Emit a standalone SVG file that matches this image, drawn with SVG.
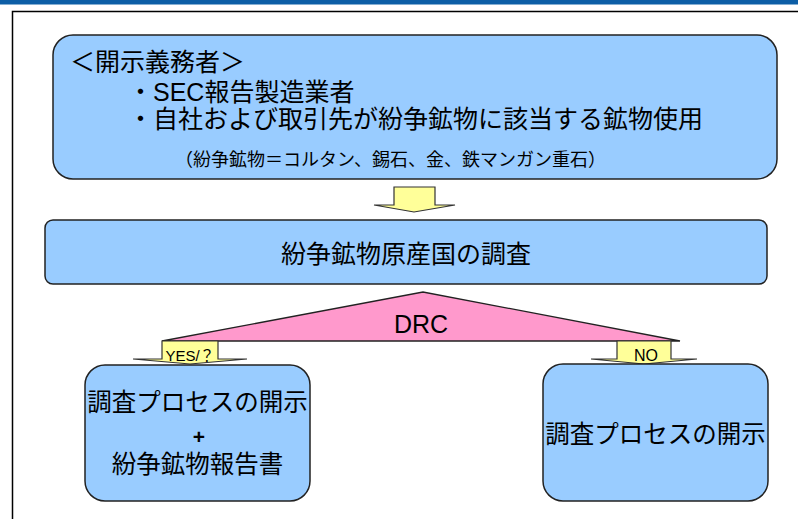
<svg xmlns="http://www.w3.org/2000/svg" width="798" height="519" viewBox="0 0 798 519">
<style>
.box{fill:#99ccff;stroke:#222;stroke-width:1.5}
.arr{fill:#ffff99;stroke:#333;stroke-width:1.2;stroke-linejoin:miter}
.tri{fill:#ff99cc;stroke:#222;stroke-width:1.3}
.t{font-family:"Liberation Sans","Noto Sans CJK JP",sans-serif;fill:#000}
.c{text-anchor:middle}
</style>
<rect x="0" y="0" width="798" height="4.5" fill="#0d5ea6"/>
<rect x="12.5" y="11.5" width="800" height="520" fill="none" stroke="#000" stroke-width="1.5"/>
<g id="connectors">
<path id="arrow-down" class="arr" d="M394,187 H435 V205 H455 L414,212 L374,205 H394 Z"/>
<path id="triangle-drc" class="tri" d="M162,341 L423,292 L680,341 Z"/>
<path id="arrow-yes" class="arr" d="M162,341 H218 V359 H247 L190,364 L133,359 H162 Z"/>
<path id="arrow-no" class="arr" d="M617,341 H671 V359 H697 L644,364 L591,359 H617 Z"/>
<text class="t c" x="421" y="333" font-size="25">DRC</text>
<text class="t c" x="190" y="361" font-size="15">YES/？</text>
<text class="t c" x="646" y="361" font-size="16">NO</text>
</g>
<g id="node-obligors">
<rect class="box" x="53" y="35" width="724" height="144" rx="20"/>
<text class="t" x="70" y="71" font-size="25">＜開示義務者＞</text>
<text class="t" x="128" y="101" font-size="25">・SEC報告製造業者</text>
<text class="t" x="128" y="128" font-size="25">・自社および取引先が紛争鉱物に該当する鉱物使用</text>
<text class="t" x="175" y="166" font-size="18">（紛争鉱物＝コルタン、錫石、金、鉄マンガン重石）</text>
</g>
<g id="node-survey">
<rect class="box" x="45" y="220" width="722" height="64" rx="8"/>
<text class="t c" x="406" y="263" font-size="25">紛争鉱物原産国の調査</text>
</g>
<g id="node-yes">
<rect class="box" x="85" y="365" width="225" height="136" rx="20"/>
<text class="t c" x="197.5" y="411" font-size="24.5">調査プロセスの開示</text>
<text class="t c" x="199" y="444" font-size="21" font-weight="bold">+</text>
<text class="t c" x="197.5" y="473" font-size="24.5">紛争鉱物報告書</text>
</g>
<g id="node-no">
<rect class="box" x="543" y="364" width="225" height="137" rx="20"/>
<text class="t c" x="655.5" y="443" font-size="24.5">調査プロセスの開示</text>
</g>
</svg>
